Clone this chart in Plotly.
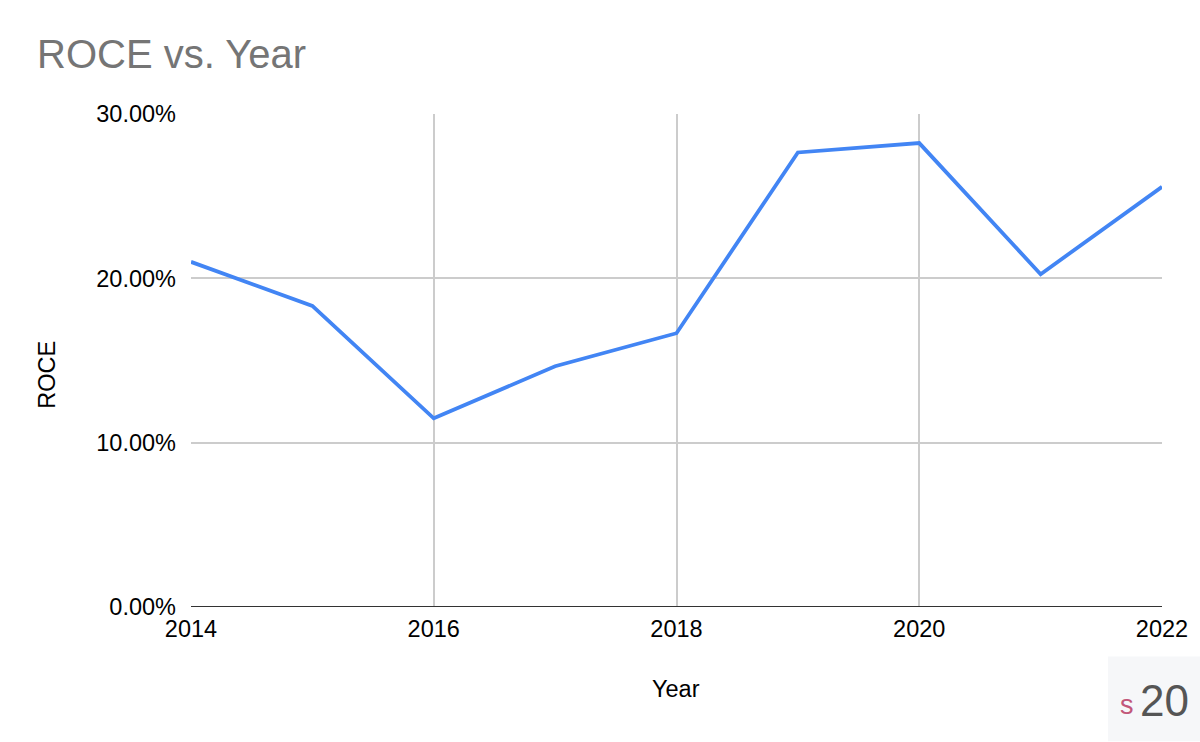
import plotly.graph_objects as go

years = [2014, 2015, 2016, 2017, 2018, 2019, 2020, 2021, 2022]
roce = [0.2100, 0.1832, 0.1148, 0.1465, 0.1666, 0.2766, 0.2823, 0.2025, 0.2557]
x_ticks = [2014, 2016, 2018, 2020, 2022]
y_ticks = [0.0, 0.10, 0.20, 0.30]

FONT = "Liberation Sans, Arial, sans-serif"
W, H = 1200, 742
L, R, T, B = 191, 38, 114, 134.5
pw, ph = W - L - R, H - T - B


def px(x):
    return (x - L) / pw


def py(y):
    return (H - B - y) / ph


fig = go.Figure()
fig.add_trace(go.Scatter(
    x=years, y=roce, mode="lines",
    line=dict(color="#4285f4", width=3.8),
    hoverinfo="skip", showlegend=False,
))

fig.update_layout(
    width=W, height=H,
    margin=dict(l=L, r=R, t=T, b=B),
    paper_bgcolor="white", plot_bgcolor="white",
    font=dict(family=FONT, size=23.5, color="#000000"),
    title=dict(text="ROCE vs. Year", x=37 / W, xanchor="left",
               y=1 - 54 / H, yanchor="middle",
               font=dict(family=FONT, size=40, color="#757575")),
    xaxis=dict(range=[2014, 2022], tickvals=x_ticks, ticktext=[str(v) for v in x_ticks],
               showgrid=True, gridcolor="#cccccc", gridwidth=1.5,
               zeroline=False, showline=False, ticks="", ticklabelstandoff=5,
               tickfont=dict(family=FONT, size=23.5, color="#000000")),
    yaxis=dict(range=[0, 0.30], tickvals=y_ticks, tickformat=".2%",
               showgrid=True, gridcolor="#cccccc", gridwidth=1.5,
               zeroline=False, showline=False, ticks="", ticklabelstandoff=14,
               tickfont=dict(family=FONT, size=23.5, color="#000000")),
)

ann_common = dict(xref="paper", yref="paper", showarrow=False,
                  xanchor="center", yanchor="middle")
fig.add_annotation(text="Year", x=px(676), y=py(690),
                   font=dict(family=FONT, size=23.5, color="#000000"), **ann_common)
fig.add_annotation(text="ROCE", x=px(47), y=py(375), textangle=-90,
                   font=dict(family=FONT, size=23.5, color="#000000"), **ann_common)

# baseline at 0%
fig.add_shape(type="line", xref="paper", yref="y", x0=0, x1=1, y0=0, y1=0,
              line=dict(color="#333333", width=2))

# watermark box
fig.add_shape(type="rect", xref="paper", yref="paper",
              x0=px(1108), x1=px(1200), y0=py(742), y1=py(657),
              fillcolor="#f6f7f9", line=dict(width=0), layer="below")
fig.add_annotation(text="s", x=px(1126.5), y=py(706),
                   font=dict(family=FONT, size=27, color="#c2577a"), **ann_common)
fig.add_annotation(text="20", x=px(1164), y=py(701),
                   font=dict(family=FONT, size=44, color="#555555"), **ann_common)

fig.write_html("out.html", config={"displayModeBar": False},
               post_script="document.body.style.margin='0';")
